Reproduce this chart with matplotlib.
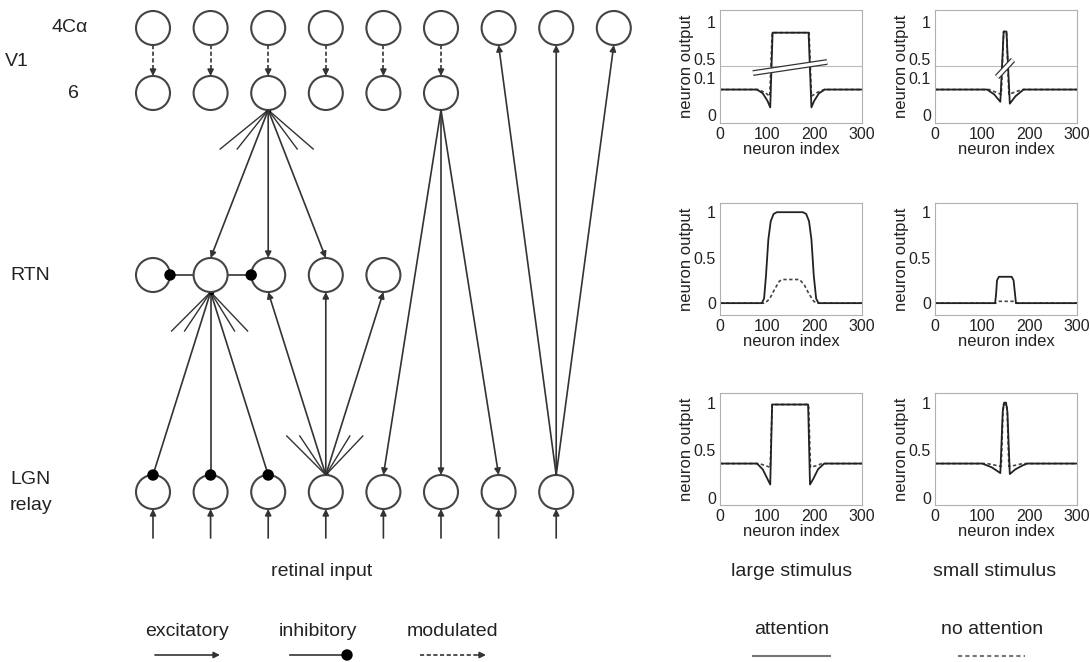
import numpy as np
import matplotlib.pyplot as plt
from matplotlib.patches import Circle

plt.rcParams['font.family'] = ['Liberation Sans', 'DejaVu Sans']

INK = '#333333'

# ---- network diagram ----
col_x0, col_step = 153, 57.6
layer_y = {'4C': 28, '6': 93, 'RTN': 275, 'LGN': 492}
layer_ncols = {'4C': 9, '6': 6, 'RTN': 5, 'LGN': 8}
r_cell = 17

# (source layer, source column, target layer, target columns)
modulated = [('4C', c, '6', [c]) for c in range(6)]
excitatory = [('6', 2, 'RTN', [1, 2, 3]),
              ('6', 5, 'LGN', [4, 5, 6]),
              ('LGN', 7, '4C', [6, 7, 8]),
              ('LGN', 3, 'RTN', [2, 3, 4])]
inhibitory = [('RTN', 1, 'LGN', [0, 1, 2])]
lateral_inhib = [('RTN', 1, 'RTN', [0, 2])]
retinal_cols = list(range(8))
# short fan lines (layer, column, direction, dx list)
fans = [('6', 2, 1, [-48, -31, 29, 45]),
        ('RTN', 1, 1, [-39, -26, 24, 37]),
        ('LGN', 3, -1, [-39, -26, 24, 37])]

# ---- response curves: (neuron index, output) ----
v1_large_att = ([0, 78, 90, 100, 106, 111, 187, 193, 199, 209, 221, 300],
                [.068, .068, .058, .038, .02, .855, .855, .02, .038, .058, .068, .068])
v1_large_noatt = ([0, 80, 95, 105, 110, 188, 193, 205, 220, 300],
                  [.068, .068, .06, .05, .855, .855, .05, .06, .068, .068])
v1_small_att = ([0, 110, 125, 138, 145, 151, 158, 170, 187, 300],
                [.068, .068, .055, .035, .87, .87, .03, .05, .068, .068])
v1_small_noatt = ([0, 115, 130, 140, 145, 151, 156, 170, 185, 300],
                  [.068, .068, .06, .055, .87, .87, .055, .062, .068, .068])
rtn_large_att = ([0, 88, 93, 97, 102, 107, 113, 120, 175, 182, 188, 193, 198, 203, 208, 300],
                 [0, 0, .05, .3, .7, .9, .98, 1, 1, .98, .9, .7, .3, .05, 0, 0])
rtn_large_noatt = ([0, 95, 105, 115, 125, 132, 168, 178, 188, 198, 205, 300],
                   [0, 0, .05, .15, .24, .26, .26, .2, .1, .02, 0, 0])
rtn_small_att = ([0, 127, 129, 131, 135, 162, 166, 169, 171, 300],
                 [0, 0, .1, .25, .29, .29, .25, .1, 0, 0])
rtn_small_noatt = ([0, 128, 135, 165, 172, 300],
                   [0, 0, .02, .02, 0, 0])
lgn_large_att = ([0, 78, 90, 100, 106, 110, 186, 190, 197, 207, 220, 300],
                 [.36, .36, .3, .2, .14, .98, .98, .14, .2, .3, .36, .36])
lgn_large_noatt = ([0, 82, 95, 106, 110, 187, 191, 205, 215, 300],
                   [.36, .36, .34, .32, .98, .98, .32, .34, .36, .36])
lgn_small_att = ([0, 100, 120, 138, 143, 146, 150, 153, 158, 170, 185, 195, 300],
                 [.36, .36, .32, .26, .9, 1, 1, .9, .25, .3, .34, .36, .36])
lgn_small_noatt = ([0, 110, 130, 140, 144, 152, 156, 168, 185, 300],
                   [.36, .36, .34, .33, .98, .98, .33, .34, .36, .36])

v1_ticks = [0, 0.1, 0.5, 1]
lin_ticks = [0, 0.5, 1]
x_ticks = [0, 100, 200, 300]


def cx(c):
    return col_x0 + col_step * c


fig = plt.figure(figsize=(10.9, 6.62), dpi=100)
ax = fig.add_axes([0, 0, 1, 1])
ax.set_xlim(0, 1090)
ax.set_ylim(662, 0)
ax.axis('off')


def arrow(p0, p1, style='-|>', ls='-'):
    ax.annotate('', xy=p1, xytext=p0,
                arrowprops=dict(arrowstyle=style, color=INK, lw=1.2, ls=ls,
                                mutation_scale=9, shrinkA=0, shrinkB=0))


def dot(p):
    ax.add_patch(Circle(p, 5, fc='black', ec='black', zorder=4))


def ports(sl, sc, tl, tc):
    down = layer_y[tl] > layer_y[sl]
    s = 1 if down else -1
    return ((cx(sc), layer_y[sl] + s * r_cell), (cx(tc), layer_y[tl] - s * r_cell))


for lay, n in layer_ncols.items():
    for c in range(n):
        ax.add_patch(Circle((cx(c), layer_y[lay]), r_cell, fc='white', ec='#444444',
                            lw=1.5, zorder=3))

for sl, sc, tl, tcs in excitatory:
    for tc in tcs:
        p0, p1 = ports(sl, sc, tl, tc)
        arrow(p0, p1)

for sl, sc, tl, tcs in modulated:
    for tc in tcs:
        p0, p1 = ports(sl, sc, tl, tc)
        ax.plot([p0[0], p1[0]], [p0[1], p1[1] - 6], color=INK, lw=1.2, ls=(0, (2.5, 1.5)))
        arrow((p1[0], p1[1] - 6), p1)

for sl, sc, tl, tcs in inhibitory:
    for tc in tcs:
        p0, p1 = ports(sl, sc, tl, tc)
        ax.plot([p0[0], p1[0]], [p0[1], p1[1]], color=INK, lw=1.2)
        dot(p1)

for sl, sc, tl, tcs in lateral_inhib:
    for tc in tcs:
        s = 1 if tc > sc else -1
        y = layer_y[sl]
        p0 = (cx(sc) + s * r_cell, y)
        p1 = (cx(tc) - s * r_cell, y)
        ax.plot([p0[0], p1[0]], [y, y], color=INK, lw=1.2)
        dot(p1)

for c in retinal_cols:
    arrow((cx(c), 538), (cx(c), layer_y['LGN'] + r_cell))

for lay, c, s, dxs in fans:
    x0, y0 = cx(c), layer_y[lay] + s * r_cell
    for dx in dxs:
        ax.plot([x0, x0 + dx], [y0, y0 + s * 39], color=INK, lw=1.0)
    ax.plot(x0, y0, marker='o', ms=3, color='black')

lab = dict(fontsize=14, color='#222222', va='center')
ax.text(5, 62, 'V1', **lab)
ax.text(52, 28, '4C\u03b1', **lab)
ax.text(73, 93, '6', ha='center', **lab)
ax.text(10, 275, 'RTN', **lab)
ax.text(10, 479, 'LGN', **lab)
ax.text(10, 505, 'relay', **lab)

ax.text(322, 571, 'retinal input', ha='center', **lab)
ax.text(792, 571, 'large stimulus', ha='center', **lab)
ax.text(995, 571, 'small stimulus', ha='center', **lab)

ax.text(187, 632, 'excitatory', ha='center', **lab)
arrow((155, 655), (220, 655))
ax.text(318, 632, 'inhibitory', ha='center', **lab)
ax.plot([290, 347], [655, 655], color=INK, lw=1.2)
dot((347, 655))
ax.text(453, 632, 'modulated', ha='center', **lab)
ax.plot([420, 478], [655, 655], color=INK, lw=1.2, ls=(0, (2.5, 1.5)))
arrow((478, 655), (486, 655))
ax.text(792, 630, 'attention', ha='center', **lab)
ax.plot([753, 830], [656, 656], color='#777777', lw=1.5)
ax.text(992, 630, 'no attention', ha='center', **lab)
ax.plot([958, 1025], [656, 656], color='#777777', lw=1.5, ls=(0, (2, 1.5)))


# ---- response panels ----
def fwd(v):
    v = np.asarray(v, float)
    return np.where(v <= 0.1, v * 10, np.where(v <= 0.5, 1 + (v - 0.1) * 1.25, 1.5 + (v - 0.5) * 2))


def inv(t):
    t = np.asarray(t, float)
    return np.where(t <= 1, t / 10, np.where(t <= 1.5, 0.1 + (t - 1) * 0.8, 0.5 + (t - 1.5) / 2))


panels = [
    (v1_large_att, v1_large_noatt, 0, 0),
    (v1_small_att, v1_small_noatt, 0, 1),
    (rtn_large_att, rtn_large_noatt, 1, 0),
    (rtn_small_att, rtn_small_noatt, 1, 1),
    (lgn_large_att, lgn_large_noatt, 2, 0),
    (lgn_small_att, lgn_small_noatt, 2, 1),
]
lefts = [0.6606, 0.8578]
bottoms = [0.8142, 0.5242, 0.2372]
heights = [0.1707, 0.169, 0.169]
ylims = [(-0.022, 1.16), (-0.13, 1.1), (-0.075, 1.1)]

for att, noatt, r, c in panels:
    a = fig.add_axes([lefts[c], bottoms[r], 0.1303, heights[r]])
    if r == 0:
        a.set_yscale('function', functions=(fwd, inv))
        a.axhline(0.34, color='#bbbbbb', lw=0.8)
        a.set_yticks(v1_ticks, ['0', '0.1', '0.5', '1'])
    else:
        a.set_yticks(lin_ticks, ['0', '0.5', '1'])
    a.plot(noatt[0], noatt[1], color='#444444', lw=1.2, ls=(0, (2, 1.5)))
    a.plot(att[0], att[1], color='#222222', lw=1.3)
    a.set_xlim(0, 300)
    a.set_ylim(*ylims[r])
    a.set_xticks(x_ticks)
    a.tick_params(labelsize=11.5, length=0, pad=3, colors='#222222')
    a.set_xlabel('neuron index', fontsize=12, labelpad=0, color='#222222')
    a.set_ylabel('neuron output', fontsize=12, labelpad=0, color='#222222')
    for sp in a.spines.values():
        sp.set_color('#b0b0b0')
        sp.set_linewidth(0.8)
    if r == 0:
        if c == 0:
            bx, by = [0.232, 0.754], [0.442, 0.540]
        else:
            bx, by = [0.437, 0.549], [0.407, 0.558]
        a.plot(bx, by, transform=a.transAxes, color='#333333', lw=4.2,
               solid_capstyle='butt', zorder=5)
        a.plot(bx, by, transform=a.transAxes, color='white', lw=2.4,
               solid_capstyle='butt', zorder=6)

fig.savefig('out.png', dpi=100)
